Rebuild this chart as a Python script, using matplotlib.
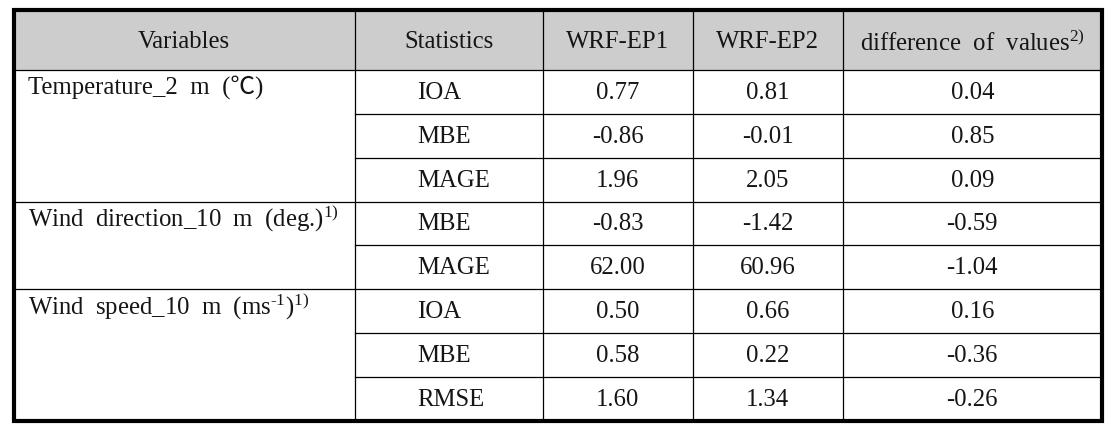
import matplotlib
matplotlib.use("Agg")
import matplotlib.pyplot as plt
from matplotlib.patches import Rectangle

plt.rcParams['font.family'] = ['Liberation Serif', 'Noto Sans CJK KR', 'DejaVu Serif']
plt.rcParams['mathtext.fontset'] = 'custom'
plt.rcParams['mathtext.rm'] = 'Liberation Serif'
plt.rcParams['mathtext.it'] = 'Liberation Serif:italic'
plt.rcParams['mathtext.default'] = 'regular'

# ---- data ----
headers = ["Variables", "Statistics", "WRF-EP1", "WRF-EP2", r"difference  of  values$^{2)}$"]
variables = [r"Temperature_2  m  (℃)", r"Wind  direction_10  m  (deg.)$^{1)}$",
             r"Wind  speed_10  m  (ms$^{\text{-}1}$)$^{1)}$"]
group_sizes = [3, 2, 3]
statistics = ["IOA", "MBE", "MAGE", "MBE", "MAGE", "IOA", "MBE", "RMSE"]
wrf_ep1 = ["0.77", "-0.86", "1.96", "-0.83", "62.00", "0.50", "0.58", "1.60"]
wrf_ep2 = ["0.81", "-0.01", "2.05", "-1.42", "60.96", "0.66", "0.22", "1.34"]
diff_values = ["0.04", "0.85", "0.09", "-0.59", "-1.04", "0.16", "-0.36", "-0.26"]

# ---- layout (pixels) ----
W, H = 1114, 434
col_edges = [13.5, 355, 543, 692.5, 843, 1101.5]
top, header_bottom = 9.5, 70
row_h = 43.85
fs = 17.8
txt_color = "#151515"

fig = plt.figure(figsize=(W / 100, H / 100), dpi=100)
ax = fig.add_axes([0, 0, 1, 1])
ax.set_xlim(0, W)
ax.set_ylim(H, 0)
ax.axis("off")

n = len(statistics)
row_tops = [header_bottom + i * row_h for i in range(n + 1)]
bottom = row_tops[-1]

# header background
ax.add_patch(Rectangle((col_edges[0], top), col_edges[-1] - col_edges[0],
                       header_bottom - top, facecolor="#cdcdcd", edgecolor="none", zorder=0))

thin = 0.9
ax.plot([col_edges[0], col_edges[-1]], [header_bottom, header_bottom], color="black", lw=thin)
for x in col_edges[1:-1]:
    ax.plot([x, x], [top, bottom], color="black", lw=thin)
for y in row_tops[1:-1]:
    ax.plot([col_edges[1], col_edges[-1]], [y, y], color="black", lw=thin)
idx = 0
for g in group_sizes[:-1]:
    idx += g
    y = row_tops[idx]
    ax.plot([col_edges[0], col_edges[1]], [y, y], color="black", lw=thin)

# outer border
ax.add_patch(Rectangle((col_edges[0], top), col_edges[-1] - col_edges[0], bottom - top,
                       facecolor="none", edgecolor="black", lw=3.0, zorder=5))

# header text
hy = (top + header_bottom) / 2 + 2.5
for i, h in enumerate(headers):
    cx = (col_edges[i] + col_edges[i + 1]) / 2
    ax.text(cx, hy, h, ha="center", va="center", fontsize=fs, color=txt_color)

# variable text
idx = 0
for v, g in zip(variables, group_sizes):
    y = row_tops[idx] + 17
    ax.text(28, y, v, ha="left", va="center", fontsize=fs, color=txt_color)
    idx += g

# data rows
for i in range(n):
    cy = row_tops[i] + row_h / 2 + 1
    ax.text(417, cy, statistics[i], ha="left", va="center", fontsize=fs, color=txt_color)
    for j, col in enumerate([wrf_ep1, wrf_ep2, diff_values]):
        cx = (col_edges[j + 2] + col_edges[j + 3]) / 2
        ax.text(cx, cy, col[i], ha="center", va="center", fontsize=fs, color=txt_color)

fig.savefig("out.png", dpi=100)
